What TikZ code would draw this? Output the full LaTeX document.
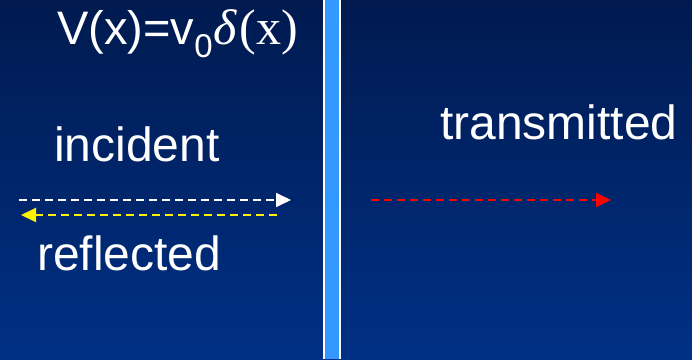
\documentclass[tikz,border=0pt]{standalone}
\usepackage{fontspec}
\setmainfont{Liberation Sans}
\newfontfamily\serifdelta{Liberation Serif}
\usepackage{xcolor}
\usepackage{tikz}
\usetikzlibrary{arrows.meta, positioning}
\definecolor{bgtop}{HTML}{001A4F}
\definecolor{bgbottom}{HTML}{003085}
\definecolor{barrier}{HTML}{3399FF}

\tikzset{
  label/.style={anchor=base west, inner sep=0pt, white, font=\fontsize{48}{52}\selectfont},
  wave/.style={line width=2pt, dash pattern=on 8pt off 5pt, -{Triangle[length=15pt, width=14pt]}}
}

\begin{document}
\begin{tikzpicture}[x=1pt, y=1pt]
    % background
    \fill[top color=bgtop, bottom color=bgbottom] (0,0) rectangle (692,359);
    \useasboundingbox (0,0) rectangle (692,359);
    % delta barrier
    \fill[white] (323,0) rectangle (341,359);
    \fill[barrier] (325,0) rectangle (339,359);
    % potential
    \node[label, font=\fontsize{47}{50}\selectfont] (pot) at (57,314)
      {V(x)=v\raisebox{-13pt}{\fontsize{33}{35}\selectfont 0}\kern1pt{\serifdelta\fontsize{50}{54}\selectfont\itshape δ}\kern3pt{\serifdelta\fontsize{50}{54}\selectfont (x)}};
    % labels
    \node[label] (inc) at (54,197) {incident};
    \node[label] (refl) at (37,89) {reflected};
    \node[label] (trans) at (440,219) {transmitted};
    % waves
    \coordinate (incA) at (19,159);
    \coordinate (incB) at (291,159);
    \coordinate (refA) at (277,144);
    \coordinate (refB) at (21,144);
    \coordinate (trA) at (371,159);
    \coordinate (trB) at (611,159);
    \draw[wave, white] (incA) -- (incB);
    \draw[wave, yellow] (refA) -- (refB);
    \draw[wave, red] (trA) -- (trB);
\end{tikzpicture}
\end{document}
